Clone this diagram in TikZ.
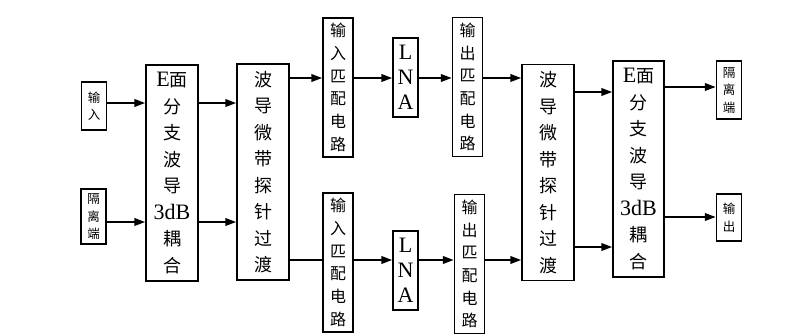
\documentclass[tikz,border=0pt]{standalone}
\usepackage{fontspec}
\setmainfont{Noto Sans CJK SC}
\newfontfamily\lat{Liberation Serif}
\usetikzlibrary{arrows.meta, positioning}

\newcommand{\lE}[1]{{\lat\fontsize{22}{26.5}\selectfont #1}}

\begin{document}
\begin{tikzpicture}[x=1pt, y=-1pt,
  blk/.style={draw, line width=1.4pt, inner sep=0pt, align=center},
  big/.style={blk, minimum width=52pt, minimum height=216pt, font=\fontsize{18}{26.5}\selectfont},
  mid/.style={blk, minimum width=30pt, minimum height=139pt, font=\fontsize{16}{22.7}\selectfont},
  amp/.style={blk, minimum width=25pt, minimum height=79pt, font=\lat\fontsize{22}{25}\selectfont},
  port/.style={blk, minimum width=25pt, font=\fontsize{12.5}{17.5}\selectfont},
  wire/.style={line width=2.2pt},
  arr/.style={wire, -{Triangle[length=11pt, width=7.5pt]}}]
  \useasboundingbox (0,0) rectangle (793,335);
  % Ports and couplers
  \node[port, minimum height=48pt] (in) at (94,106) {输\\入};
  \node[port, minimum height=55pt] (isoin) at (93.5,216.5) {隔\\离\\端};
  \node[big] (split) at (172,173) {\lE{E}面\\分\\支\\波\\导\\\lE{3dB}\\耦\\合};
  \node[big] (trans1) at (263,172) {波\\导\\微\\带\\探\\针\\过\\渡};
  % Upper amplifier branch
  \node[mid] (imA) at (338,87.5) {输\\入\\匹\\配\\电\\路};
  \node[amp] (lnaA) at (405.5,77.5) {L\\N\\A};
  \node[mid] (omA) at (467.5,87) {输\\出\\匹\\配\\电\\路};
  % Lower amplifier branch
  \node[mid] (imB) at (338,262.5) {输\\入\\匹\\配\\电\\路};
  \node[amp] (lnaB) at (405.5,270.5) {L\\N\\A};
  \node[mid] (omB) at (469.5,264) {输\\出\\匹\\配\\电\\路};
  % Output side
  \node[big] (trans2) at (548,172.5) {波\\导\\微\\带\\探\\针\\过\\渡};
  \node[big, minimum width=51pt] (comb) at (638.5,169) {\lE{E}面\\分\\支\\波\\导\\\lE{3dB}\\耦\\合};
  \node[port, minimum height=58pt] (isoout) at (729,90) {隔\\离\\端};
  \node[port, minimum height=47pt] (out) at (729,217.5) {输\\出};
  % Signal levels
  \coordinate (r1) at (0,103);
  \coordinate (r2) at (0,222);
  \coordinate (r3) at (0,78);
  \coordinate (r4) at (0,260);
  \coordinate (r5) at (0,92);
  \coordinate (r6) at (0,247);
  \coordinate (r7) at (0,87);
  \coordinate (r8) at (0,217);
  % Connections
  \draw[arr] (in.east |- r1) -- (split.west |- r1);
  \draw[arr] (isoin.east |- r2) -- (split.west |- r2);
  \draw[arr] (split.east |- r1) -- (trans1.west |- r1);
  \draw[arr] (split.east |- r2) -- (trans1.west |- r2);
  \draw[arr] (trans1.east |- r3) -- (imA.west |- r3);
  \draw[wire] (trans1.east |- r4) -- (imB.west |- r4);
  \draw[arr] (imA.east |- r3) -- (lnaA.west |- r3);
  \draw[arr] (lnaA.east |- r3) -- (omA.west |- r3);
  \draw[arr] (omA.east |- r3) -- (trans2.west |- r3);
  \draw[arr] (imB.east |- r4) -- (lnaB.west |- r4);
  \draw[arr] (lnaB.east |- r4) -- (omB.west |- r4);
  \draw[arr] (omB.east |- r4) -- (trans2.west |- r4);
  \draw[arr] (trans2.east |- r5) -- (comb.west |- r5);
  \draw[arr] (trans2.east |- r6) -- (comb.west |- r6);
  \draw[arr] (comb.east |- r7) -- (isoout.west |- r7);
  \draw[arr] (comb.east |- r8) -- (out.west |- r8);
\end{tikzpicture}
\end{document}
